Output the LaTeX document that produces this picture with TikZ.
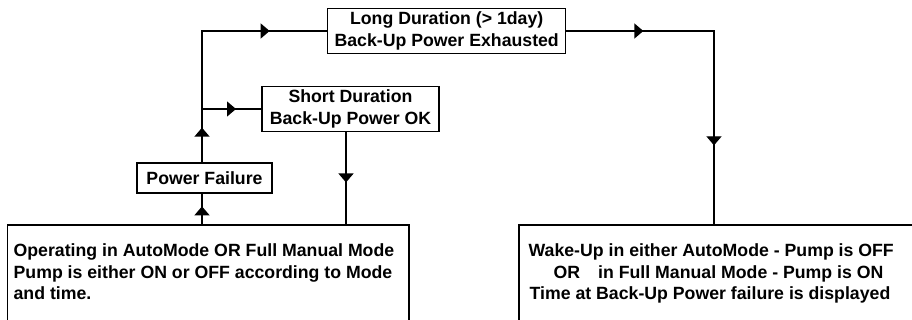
\documentclass[tikz,border=0pt]{standalone}
\usepackage{fontspec}
\setmainfont{Liberation Sans}
\usetikzlibrary{arrows.meta,decorations.markings}
\tikzset{
  box/.style={draw, inner sep=0pt, align=center, font=\bfseries\fontsize{17.7}{21.5}\selectfont},
  txt/.style={inner sep=0pt, anchor=base west, font=\bfseries\fontsize{17.7}{21.5}\selectfont},
  link/.style={draw, line width=1.3pt},
  arrowat/.style={postaction={decorate, decoration={markings, mark=at position #1 with {\arrow{Triangle[length=9pt,width=15pt]}}}}}
}
\begin{document}
\begin{tikzpicture}[x=1pt,y=-1pt,line width=1.3pt]
\useasboundingbox (0,0) rectangle (912,320);
\clip (0,0) rectangle (912,320);
\fill[white] (0,0) rectangle (912,320);
% boxes
\node[box, minimum width=238pt, minimum height=45pt] (long) at (446.7,31) {Long Duration (> 1day)\\Back-Up Power Exhausted};
\node[box, minimum width=177pt, minimum height=45pt] (short) at (350.5,109) {Short Duration\\Back-Up Power OK};
\node[box, minimum width=135pt, minimum height=30pt] (pf) at (204.5,178) {Power Failure};
\node[box, minimum width=401.3pt, minimum height=120pt] (left) at (208.35,285) {};
\node[box, minimum width=420pt, minimum height=120pt] (right) at (729,285) {};
% texts
\node[txt] (l1) at (13,256.7) {Operating in AutoMode OR Full Manual Mode};
\node[txt] (l2) at (13,278.3) {Pump is either ON or OFF according to Mode};
\node[txt] (l3) at (13,299.8) {and time.};
\node[txt] (r1) at (528,256.7) {Wake-Up in either AutoMode - Pump is OFF};
\node[txt] (r2) at (553,278.3) {OR\hspace{18pt}in Full Manual Mode - Pump is ON};
\node[txt] (r3) at (529,299.8) {Time at Back-Up Power failure is displayed};
% helper coordinates
\coordinate (v) at (202,0);
\coordinate (c) at (346,0);
\coordinate (r) at (714,0);
% connectors
\path[link, arrowat=18pt] (left.north -| v) -- (pf.south -| v);
\path[link, arrowat=34.7pt, arrowat=199pt] (pf.north -| v) -- (long.west -| v) -- (long.west);
\path[link, arrowat=34pt] (short.west -| v) -- (short.west);
\path[link, arrowat=50.3pt] (short.south -| c) -- (left.north -| c);
\path[link, arrowat=77pt, arrowat=262pt] (long.east) -- (long.east -| r) -- (right.north -| r);
\end{tikzpicture}
\end{document}
